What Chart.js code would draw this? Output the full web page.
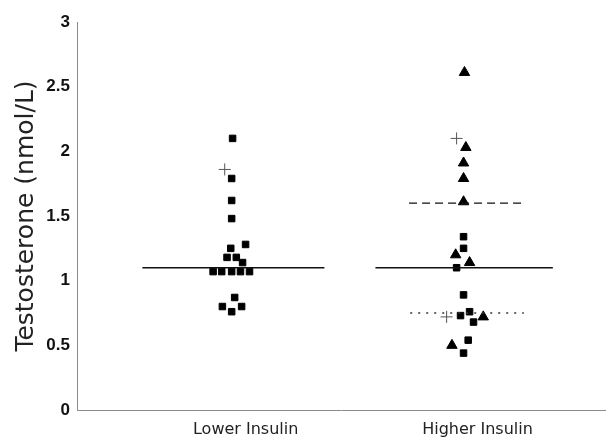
<!DOCTYPE html>
<html>
<head>
<meta charset="utf-8">
<script src="https://cdn.jsdelivr.net/npm/chart.js@4"></script>
<style>
  html, body { margin: 0; padding: 0; background: #fff; }
  #wrap { width: 612px; height: 438px; }
</style>
</head>
<body>
<div id="wrap"><canvas id="testo"></canvas></div>
<script>
// categories on the x axis (x = 1, 2)
var categories = ["Lower Insulin", "Higher Insulin"];
var yTicks = [0, 0.5, 1, 1.5, 2, 2.5, 3];

// Lower Insulin group (squares), x = category position incl. jitter
var lowerX = [1.004, 1.0, 1.0, 1.0, 1.06, 0.996, 0.98, 1.02, 1.047, 0.92, 0.957, 1.0, 1.038, 1.077, 1.013, 0.96, 1.043, 1.0];
var lowerY = [2.10, 1.79, 1.62, 1.48, 1.28, 1.25, 1.18, 1.18, 1.14, 1.07, 1.07, 1.07, 1.07, 1.07, 0.87, 0.80, 0.80, 0.76];

// Higher Insulin group, squares
var higherSqX = [2.0, 2.0, 1.97, 2.0, 1.987, 2.026, 2.043, 2.02, 2.0];
var higherSqY = [1.34, 1.25, 1.10, 0.89, 0.73, 0.76, 0.68, 0.54, 0.44];

// Higher Insulin group, triangles
var higherTriX = [2.004, 2.01, 2.0, 2.0, 2.0, 1.966, 2.026, 2.085, 1.95];
var higherTriY = [2.61, 2.03, 1.91, 1.79, 1.61, 1.20, 1.14, 0.72, 0.50];

// cross markers
var crossX = [0.97, 1.97, 1.927];
var crossY = [1.86, 2.10, 0.72];

// reference lines: [xStart, xEnd], value
var lowerMedian = { x: [0.615, 1.40], y: 1.10 };
var higherMedian = { x: [1.62, 2.385], y: 1.10 };
var higherUpper = { x: [1.765, 2.248], y: 1.60 };
var higherLower = { x: [1.77, 2.26], y: 0.75 };

function pts(xs, ys) {
    return xs.map(function(x, i) { return { x: x, y: ys[i] }; });
}
function seg(l) {
    return [{ x: l.x[0], y: l.y }, { x: l.x[1], y: l.y }];
}

var ctx = document.getElementById('testo');
var chart = new Chart(ctx, {
    type: 'scatter',
    data: {
        datasets: [
            {
                label: "Lower median",
                data: seg(lowerMedian),
                showLine: true,
                borderColor: "#111",
                borderWidth: 1.5,
                pointRadius: 0
            },
            {
                label: "Higher median",
                data: seg(higherMedian),
                showLine: true,
                borderColor: "#111",
                borderWidth: 1.5,
                pointRadius: 0
            },
            {
                label: "Higher upper",
                data: seg(higherUpper),
                showLine: true,
                borderColor: "#111",
                borderWidth: 1.3,
                borderDash: [8, 5],
                pointRadius: 0
            },
            {
                label: "Higher lower",
                data: seg(higherLower),
                showLine: true,
                borderColor: "#333",
                borderWidth: 1.3,
                borderDash: [2, 6],
                pointRadius: 0
            },
            {
                label: "Lower Insulin",
                data: pts(lowerX, lowerY),
                pointStyle: 'rect',
                pointRadius: 4.6,
                backgroundColor: "#000",
                borderColor: "#000",
                borderWidth: 1
            },
            {
                label: "Higher Insulin squares",
                data: pts(higherSqX, higherSqY),
                pointStyle: 'rect',
                pointRadius: 4.6,
                backgroundColor: "#000",
                borderColor: "#000",
                borderWidth: 1
            },
            {
                label: "Higher Insulin triangles",
                data: pts(higherTriX, higherTriY),
                pointStyle: 'triangle',
                pointRadius: 6,
                backgroundColor: "#000",
                borderColor: "#000",
                borderWidth: 1
            },
            {
                label: "Cross",
                data: pts(crossX, crossY),
                pointStyle: 'cross',
                pointRadius: 6,
                borderColor: "#555",
                borderWidth: 1
            }
        ]
    },
    options: {
        responsive: true,
        maintainAspectRatio: false,
        animation: false,
        layout: { padding: { top: 22, right: 2, bottom: 0, left: 0 } },
        plugins: {
            legend: { display: false },
            tooltip: { enabled: false }
        },
        scales: {
            x: {
                type: 'linear',
                min: 0.333,
                max: 2.61,
                afterBuildTicks: function(scale) {
                    scale.ticks = categories.map(function(c, i) { return { value: i + 1 }; });
                },
                afterFit: function(scale) { scale.height = 28; },
                grid: { display: false, drawTicks: false },
                border: { display: true, color: "#8a8a8a", width: 1, dash: [10, 6] },
                ticks: {
                    padding: 10,
                    labelOffset: 14,
                    color: "#222",
                    font: { family: "DejaVu Sans", size: 16 },
                    callback: function(v) { return categories[Math.round(v) - 1]; }
                }
            },
            y: {
                min: 0,
                max: 3,
                afterBuildTicks: function(scale) {
                    scale.ticks = yTicks.map(function(v) { return { value: v }; });
                },
                afterFit: function(scale) { scale.width = 77; },
                grid: { display: false, drawTicks: false },
                border: { display: true, color: "#8a8a8a", width: 1, dash: [3, 3] },
                title: {
                    display: true,
                    text: "Testosterone (nmol/L)",
                    color: "#222",
                    font: { family: "DejaVu Sans", size: 25 },
                    padding: { top: 11, bottom: 0 }
                },
                ticks: {
                    padding: 7,
                    color: "#111",
                    font: { family: "Liberation Sans", size: 17, weight: 'bold' },
                    callback: function(v) { return String(v); }
                }
            }
        }
    }
});
</script>
</body>
</html>
